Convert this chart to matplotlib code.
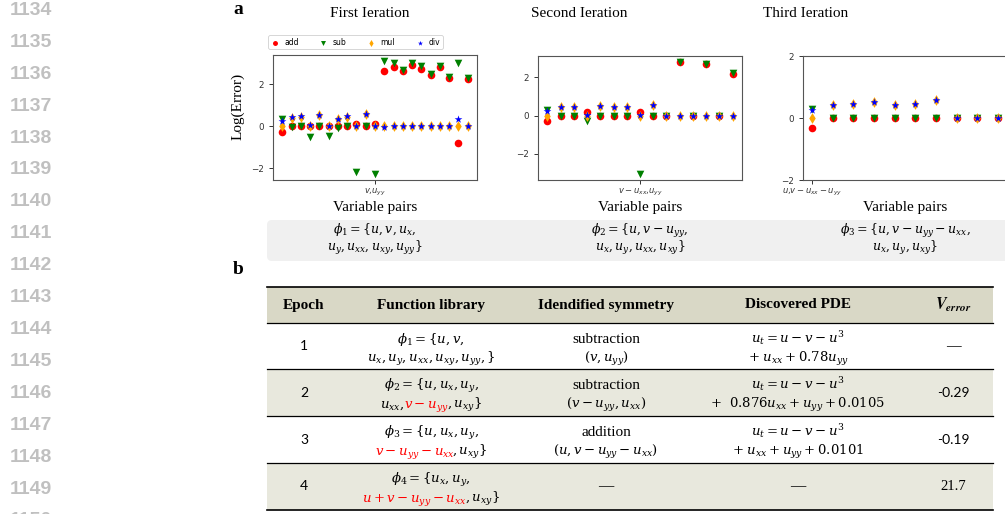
import matplotlib
matplotlib.use("Agg")
import matplotlib.pyplot as plt
from matplotlib.patches import FancyBboxPatch, Rectangle
from matplotlib.lines import Line2D

plt.rcParams['mathtext.fontset'] = 'dejavuserif'

# ---------------- data ----------------
series_labels = ["add", "sub", "mul", "div"]
series_colors = ["red", "green", "orange", "blue"]
series_markers = ["o", "v", "d", "*"]

# First iteration (21 variable pairs)
add1 = [-0.30, 0, 0, 0, 0, 0, 0, 0, 0.11, 0, 0.10, 2.62, 2.84, 2.63, 2.93, 2.74, 2.46, 2.81, 2.30, -0.80, 2.25]
sub1 = [0.32, -0.03, 0, -0.50, 0, -0.45, -0.10, 0, -2.20, 0, -2.30, 3.12, 3.02, 2.67, 2.99, 2.86, 2.50, 2.86, 2.36, 3.02, 2.30]
mul1 = [0, 0.40, 0.45, 0, 0.52, 0, 0.36, 0.45, 0, 0.56, 0, 0.02, 0, 0, 0, 0, 0, 0, 0, 0, 0]
div1 = [0.22, 0.42, 0.46, 0.03, 0.54, 0.02, 0.36, 0.46, 0, 0.57, 0, -0.05, 0, 0, 0, 0, 0, 0, 0, 0.32, 0]

# Second iteration (15 variable pairs)
add2 = [-0.30, 0, 0, 0.20, 0, 0, 0, 0.17, 0, 0, 2.80, 0, 2.69, 0, 2.17]
sub2 = [0.31, 0, 0, -0.30, 0, 0, 0, -3.07, 0, 0, 2.82, 0, 2.72, 0, 2.22]
mul2 = [0, 0.43, 0.47, 0, 0.52, 0.43, 0.47, 0, 0.57, 0, 0, 0, 0, 0, 0]
div2 = [0.26, 0.43, 0.47, 0.02, 0.52, 0.43, 0.47, 0.02, 0.57, 0, 0, 0, 0, 0, 0]

# Third iteration (10 variable pairs)
add3 = [-0.32, 0, 0, 0, 0, 0, 0, 0, 0, 0]
sub3 = [0.30, 0, 0, 0, 0, 0, 0, 0, 0, 0]
mul3 = [0, 0.43, 0.44, 0.52, 0.42, 0.45, 0.57, 0, 0, 0]
div3 = [0.25, 0.43, 0.44, 0.52, 0.42, 0.45, 0.57, 0, 0, 0]

titles = ["First Ieration", "Second Ieration", "Third Ieration"]
tick_pos = [10, 7, 0]
tick_labels = [r"$v$,$u_{yy}$", r"$v-u_{xx}$,$u_{yy}$", r"$u$,$v-u_{xx}-u_{yy}$"]

band_formulas = [
    (r"$\phi_1 = \{u, v, u_x,$", r"$u_y, u_{xx}, u_{xy}, u_{yy}\}$"),
    (r"$\phi_2 = \{u, v - u_{yy},$", r"$u_x, u_y, u_{xx}, u_{xy}\}$"),
    (r"$\phi_3 = \{u, v - u_{yy} - u_{xx},$", r"$u_x, u_y, u_{xy}\}$"),
]

table_headers = ["Epoch", "Function library", "Idendified symmetry", "Discovered PDE"]
epochs = ["1", "2", "3", "4"]
library = [
    [[(r"$\phi_1 = \{u, v,$", "k")], [(r"$u_x, u_y, u_{xx}, u_{xy}, u_{yy}, \}$", "k")]],
    [[(r"$\phi_2 = \{u, u_x, u_y,$", "k")], [(r"$u_{xx},\,$", "k"), (r"$v - u_{yy}$", "red"), (r"$, u_{xy}\}$", "k")]],
    [[(r"$\phi_3 = \{u, u_x, u_y,$", "k")], [(r"$v - u_{yy} - u_{xx}$", "red"), (r"$, u_{xy}\}$", "k")]],
    [[(r"$\phi_4 = \{u_x, u_y,$", "k")], [(r"$u + v - u_{yy} - u_{xx}$", "red"), (r"$, u_{xy}\}$", "k")]],
]
symmetry = [("subtraction", r"$(v, u_{yy})$"),
            ("subtraction", r"$(v - u_{yy}, u_{xx})$"),
            ("addition", r"$(u, v - u_{yy} - u_{xx})$"),
            ("\u2014",)]
pde = [(r"$u_t = u - v - u^3$", r"$+\;u_{xx} + 0.78u_{yy}$"),
       (r"$u_t = u - v - u^3$", r"$+\ \ 0.876u_{xx} + u_{yy} + 0.0105$"),
       (r"$u_t = u - v - u^3$", r"$+\;u_{xx} + u_{yy} + 0.0101$"),
       ("\u2014",)]
verror = ["\u2014", "-0.29", "-0.19", "21.7"]
line_numbers = list(range(1134, 1151))

# ---------------- figure ----------------
W, H = 1005, 514
fig = plt.figure(figsize=(W / 100, H / 100), dpi=100)
SERIF = "Liberation Serif"
MATH_T = 9.5   # table math size
MATH_B = 9     # band math size


def P(x, y):
    return (x / W, 1 - y / H)


def make_ax(left, top, right, bottom):
    return fig.add_axes([left / W, 1 - bottom / H, (right - left) / W, (bottom - top) / H])


# line numbers
for i, n in enumerate(line_numbers):
    fig.text(*P(10, 10.5 + 31.9 * i), str(n), fontsize=14, fontweight="bold",
             family="Liberation Sans", color="#c0c0c0", ha="left", va="center")

# panel labels
fig.text(*P(233, 9), "a", fontsize=14, fontweight="bold", family=SERIF, ha="left", va="center")
fig.text(*P(233, 269), "b", fontsize=14, fontweight="bold", family=SERIF, ha="left", va="center")

axes_boxes = [(273, 55, 477, 180), (538, 56, 742, 180), (803, 56, 1007, 180)]
data = [(add1, sub1, mul1, div1), (add2, sub2, mul2, div2), (add3, sub3, mul3, div3)]
title_x = [370, 579, 806]

axes = []
for k in range(3):
    l, t, r, b = axes_boxes[k]
    ax = make_ax(l, t, r, b)
    axes.append(ax)
    n = len(data[k][0])
    xs = list(range(n))
    for vals, lab, col, mk in zip(data[k], series_labels, series_colors, series_markers):
        ax.scatter(xs, vals, s=30 if mk != "*" else 34, c=col, marker=mk, label=lab, linewidths=0)
    ax.set_xticks([tick_pos[k]])
    ax.set_xticklabels([tick_labels[k]], fontsize=6, math_fontfamily="dejavusans")
    ax.set_yticks([-2, 0, 2])
    ax.tick_params(axis="y", labelsize=6.3, length=3, width=0.7, colors="#333333")
    ax.tick_params(axis="x", length=3, width=0.7, colors="#333333", pad=2)
    for sp in ax.spines.values():
        sp.set_color("#555555")
        sp.set_linewidth(0.8)
    ax.set_title(titles[k], x=(title_x[k] - l) / (r - l), y=(b - 22) / (b - t),
                 va="center", fontsize=11, family=SERIF)
    ax.set_xlabel("Variable pairs", fontsize=11, family=SERIF, va="center")
    ax.xaxis.set_label_coords(0.5, -(207 - b) / (b - t))

axes[2].set_ylim(-2, 2)
axes[0].set_ylabel("Log(Error)", fontsize=11, family=SERIF, va="center")
axes[0].yaxis.set_label_coords((238 - 273) / 204, (180 - 106) / 125)

leg = axes[0].legend(loc="lower left", bbox_to_anchor=(268 / W, 1 - 49 / H, 175 / W, 12 / H),
                     bbox_transform=fig.transFigure, mode="expand", ncol=4, fontsize=5.5,
                     borderpad=0.3, handlelength=1.2, handletextpad=0.6, markerscale=0.65,
                     borderaxespad=0, framealpha=1, edgecolor="#d0d0d0")
leg.get_frame().set_linewidth(0.6)

# gray band with formulas
band = FancyBboxPatch((2.67, (H - 261) / 100), 7.6, 0.41,
                      boxstyle="round,pad=0,rounding_size=0.05",
                      transform=fig.dpi_scale_trans, fc="#f0f0f0", ec="none", zorder=0)
fig.add_artist(band)
for k in range(3):
    l, t, r, b = axes_boxes[k]
    cx = (l + r) / 2
    fig.text(*P(cx, 233.5), band_formulas[k][0], fontsize=MATH_B, ha="center", va="baseline")
    fig.text(*P(cx, 250.5), band_formulas[k][1], fontsize=MATH_B, ha="center", va="baseline")

# ---------------- table ----------------
TL, TR = 267, 993
hdr_top, hdr_bot = 286.7, 323.3
row_edges = [323.3, 369.3, 416.0, 463.3, 509.5]
col_x = [304, 431, 606, 798, 953]
HDR_BG = "#d9d8c6"
ROW_BG = "#e8e8dd"


def rect(x0, y0, x1, y1, color):
    fig.add_artist(Rectangle((x0 / 100, (H - y1) / 100), (x1 - x0) / 100, (y1 - y0) / 100,
                             transform=fig.dpi_scale_trans, fc=color, ec="none", zorder=0))


def hline(y, lw):
    fig.add_artist(Line2D([TL / W, TR / W], [1 - y / H, 1 - y / H], transform=fig.transFigure,
                          color="black", lw=lw, zorder=2))


rect(TL, hdr_top, TR, hdr_bot, HDR_BG)
for i in range(4):
    if i % 2 == 1:
        rect(TL, row_edges[i], TR, row_edges[i + 1], ROW_BG)
hline(hdr_top, 1.2)
for y in row_edges[:-1]:
    hline(y, 0.9)
hline(row_edges[-1], 1.2)

hy = (hdr_top + hdr_bot) / 2
for x, h in zip(col_x, table_headers):
    fig.text(*P(x, hy), h, fontsize=11, fontweight="bold", family=SERIF, ha="center", va="center")
fig.text(*P(col_x[4], hy), r"$\mathbfit{V}_{\mathbfit{error}}$", fontsize=11.5, ha="center",
         va="center", math_fontfamily="stix")

renderer = fig.canvas.get_renderer()


def seg_line(xc, yb, segs, size=MATH_T):
    texts = [fig.text(0, 0, s, color=c, fontsize=size, ha="left", va="baseline") for s, c in segs]
    widths = [t.get_window_extent(renderer).width for t in texts]
    # tighten joins where the next piece begins with a comma
    adj = [(-2.0 if s.startswith("$,") else 0.0) for s, _ in segs]
    total = sum(widths) + sum(adj)
    x = xc - total / 2
    for t, w, a in zip(texts, widths, adj):
        x += a
        t.set_position(P(x, yb))
        x += w


for i in range(4):
    top, bot = row_edges[i], row_edges[i + 1]
    cy = (top + bot) / 2
    b1, b2 = top + 19.5, top + 38.5
    fig.text(*P(col_x[0], cy), epochs[i], fontsize=10, family="Lato", ha="center", va="center")
    seg_line(col_x[1], b1, library[i][0])
    seg_line(col_x[1], b2, library[i][1])
    for col, cell in ((2, symmetry[i]), (3, pde[i])):
        if len(cell) == 1:
            fig.text(*P(col_x[col], cy), cell[0], fontsize=11, family=SERIF, ha="center", va="center")
        else:
            fs1 = MATH_T if cell[0].startswith("$") else 11
            fig.text(*P(col_x[col], b1), cell[0], fontsize=fs1, family=SERIF, ha="center", va="baseline")
            fig.text(*P(col_x[col], b2), cell[1], fontsize=MATH_T, family=SERIF, ha="center", va="baseline")
    v = verror[i]
    fam = "Lato" if v.startswith("-") else SERIF
    fig.text(*P(col_x[4], cy), v, fontsize=10 if fam == "Lato" else 10.5, family=fam,
             ha="center", va="center")

fig.savefig("out.png", dpi=100)
